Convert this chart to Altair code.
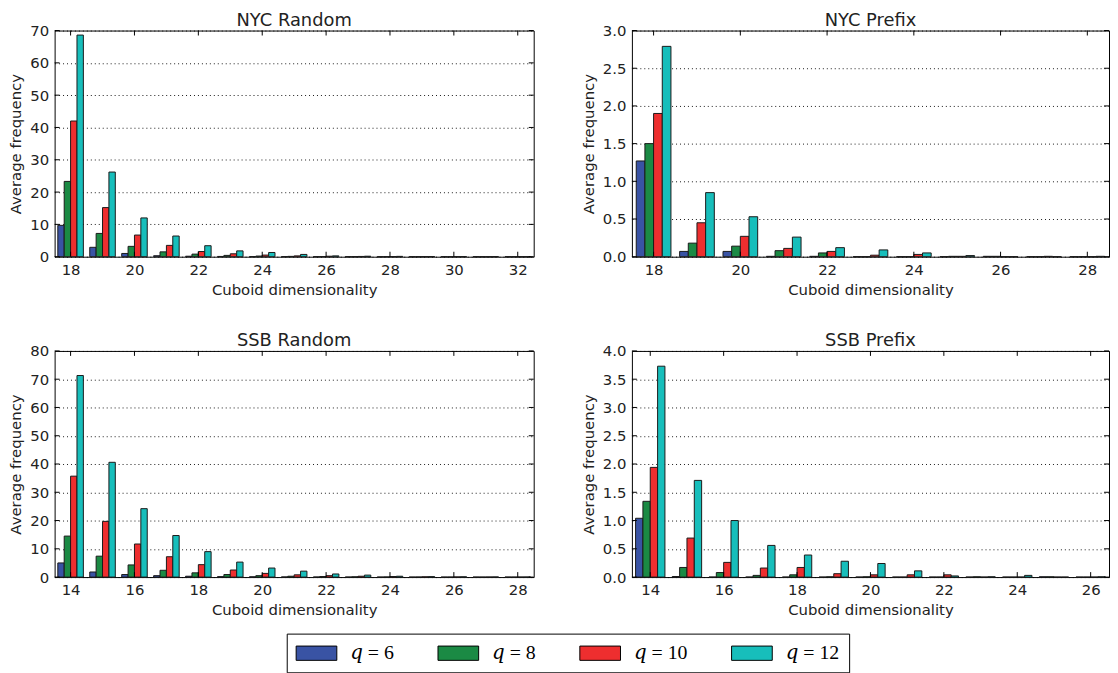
import altair as alt
import pandas as pd

# ---------------- data ----------------
LABELS = ["𝑞 = 6", "𝑞 = 8", "𝑞 = 10", "𝑞 = 12"]
COLORS = ["#3953a4", "#1b8a44", "#ee2e2f", "#17bebb"]

nycr_dims = list(range(18, 33))
nycr_q6 = [9.7, 2.9, 1.0, 0.3, 0.15, 0.08, 0.04, 0.02, 0.01, 0.01, 0, 0, 0, 0, 0]
nycr_q8 = [23.3, 7.2, 3.2, 1.5, 0.8, 0.4, 0.2, 0.1, 0.05, 0.03, 0.02, 0.01, 0, 0, 0]
nycr_q10 = [42.0, 15.2, 6.7, 3.5, 1.6, 0.9, 0.5, 0.25, 0.15, 0.08, 0.04, 0.02, 0.01, 0, 0]
nycr_q12 = [68.6, 26.2, 12.0, 6.4, 3.4, 1.8, 1.3, 0.7, 0.25, 0.15, 0.1, 0.05, 0.03, 0.02, 0.01]

nycp_dims = list(range(18, 29))
nycp_q6 = [1.27, 0.07, 0.07, 0.005, 0.005, 0, 0, 0, 0.005, 0, 0]
nycp_q8 = [1.50, 0.18, 0.14, 0.08, 0.05, 0, 0, 0.005, 0.005, 0, 0]
nycp_q10 = [1.90, 0.45, 0.27, 0.11, 0.07, 0.02, 0.03, 0.005, 0, 0.005, 0]
nycp_q12 = [2.79, 0.85, 0.53, 0.26, 0.12, 0.09, 0.05, 0.015, 0, 0, 0.005]

ssbr_dims = list(range(14, 29))
ssbr_q6 = [5.0, 1.8, 0.9, 0.5, 0.3, 0.15, 0.1, 0.05, 0.02, 0.01, 0, 0, 0, 0, 0]
ssbr_q8 = [14.5, 7.4, 4.3, 2.4, 1.5, 0.9, 0.5, 0.3, 0.2, 0.1, 0.05, 0.02, 0.01, 0, 0]
ssbr_q10 = [35.7, 19.7, 11.7, 7.2, 4.4, 2.5, 1.3, 0.8, 0.5, 0.3, 0.2, 0.1, 0.05, 0.02, 0.01]
ssbr_q12 = [71.3, 40.6, 24.2, 14.7, 9.0, 5.3, 3.2, 2.1, 1.1, 0.7, 0.3, 0.15, 0.1, 0.05, 0.03]

ssbp_dims = list(range(14, 27))
ssbp_q6 = [1.04, 0.01, 0, 0, 0, 0, 0, 0, 0, 0, 0, 0.005, 0]
ssbp_q8 = [1.34, 0.17, 0.08, 0.03, 0.04, 0.005, 0.005, 0, 0, 0.005, 0, 0.005, 0]
ssbp_q10 = [1.94, 0.69, 0.26, 0.16, 0.17, 0.06, 0.04, 0.04, 0.04, 0, 0, 0, 0]
ssbp_q12 = [3.73, 1.71, 1.00, 0.56, 0.39, 0.28, 0.24, 0.11, 0.02, 0.005, 0.03, 0, 0.005]

# ---------------- layout constants ----------------
OFFSETS = [-0.3, -0.1, 0.1, 0.3]
HALF = 0.1
H = 228
TICK = 5

legend = alt.Legend(
    orient="none", legendX=234, legendY=608, direction="horizontal", columns=4,
    title=None, symbolType="M-1,-0.72H3.1V0.72H-1Z", symbolSize=400,
    symbolStrokeColor="black", symbolStrokeWidth=1, symbolOpacity=1,
    labelFont="Liberation Serif, DejaVu Serif", labelFontSize=20, labelColor="black",
    labelOffset=34, columnPadding=41, padding=9,
    strokeColor="black", fillColor="white",
)


def make_df(dims, series):
    rows = []
    for si, vals in enumerate(series):
        for d, v in zip(dims, vals):
            rows.append({"q": LABELS[si], "value": v,
                         "lo": d + OFFSETS[si] - HALF, "hi": d + OFFSETS[si] + HALF})
    return pd.DataFrame(rows)


def panel(title, dims, series, xdom, xticks, ydom, yticks, yfmt, W):
    df = make_df(dims, series)
    xs = alt.Scale(domain=xdom, nice=False, zero=False)
    ys = alt.Scale(domain=ydom, nice=False)
    xax = alt.Axis(values=xticks, format="d", title="Cuboid dimensionality", grid=False,
                   ticks=False, domain=False, labelPadding=6, titlePadding=5)
    yax = alt.Axis(values=yticks, format=yfmt, title="Average frequency", grid=True,
                   gridColor="black", gridDash=[1, 3], gridOpacity=0.9, ticks=False,
                   domain=False, labelPadding=6, titlePadding=6)
    bars = alt.Chart(df).mark_bar(stroke="#1a1a1a", strokeWidth=1, opacity=1).encode(
        x=alt.X("lo:Q", scale=xs, axis=xax),
        x2="hi:Q",
        y=alt.Y("value:Q", scale=ys, axis=yax),
        y2=alt.datum(0),
        color=alt.Color("q:N", scale=alt.Scale(domain=LABELS, range=COLORS), legend=legend),
    )
    xt = pd.DataFrame({"lo": xticks})
    yt = pd.DataFrame({"value": yticks})
    bottom = alt.Chart(xt).mark_rule(color="black", strokeWidth=1).encode(
        x=alt.X("lo:Q", scale=xs, axis=xax), y=alt.value(H), y2=alt.value(H - TICK))
    top = alt.Chart(xt).mark_rule(color="black", strokeWidth=1).encode(
        x=alt.X("lo:Q", scale=xs, axis=xax), y=alt.value(0), y2=alt.value(TICK))
    left = alt.Chart(yt).mark_rule(color="black", strokeWidth=1).encode(
        y=alt.Y("value:Q", scale=ys, axis=yax), x=alt.value(0), x2=alt.value(TICK))
    right = alt.Chart(yt).mark_rule(color="black", strokeWidth=1).encode(
        y=alt.Y("value:Q", scale=ys, axis=yax), x=alt.value(W - TICK), x2=alt.value(W))
    return alt.layer(bars, bottom, top, left, right).properties(
        width=W, height=H, title=title)


p1 = panel("NYC Random", nycr_dims, [nycr_q6, nycr_q8, nycr_q10, nycr_q12],
           [17.5, 32.5], list(range(18, 33, 2)), [0, 70], list(range(0, 71, 10)), "d", 483)
p2 = panel("NYC Prefix", nycp_dims, [nycp_q6, nycp_q8, nycp_q10, nycp_q12],
           [17.5, 28.5], list(range(18, 29, 2)), [0, 3.0], [i * 0.5 for i in range(7)], ".1f", 481)
p3 = panel("SSB Random", ssbr_dims, [ssbr_q6, ssbr_q8, ssbr_q10, ssbr_q12],
           [13.5, 28.5], list(range(14, 29, 2)), [0, 80], list(range(0, 81, 10)), "d", 483)
p4 = panel("SSB Prefix", ssbp_dims, [ssbp_q6, ssbp_q8, ssbp_q10, ssbp_q12],
           [13.5, 26.5], list(range(14, 27, 2)), [0, 4.0], [i * 0.5 for i in range(9)], ".1f", 481)

chart = alt.vconcat(
    alt.hconcat(p1, p2, spacing=46),
    alt.hconcat(p3, p4, spacing=46),
    spacing=33,
).resolve_scale(color="shared").properties(padding=0).configure(
    font="DejaVu Sans"
).configure_axis(
    labelFontSize=15, titleFontSize=15, titleFontWeight="normal",
    labelColor="#222", titleColor="#222", labelFont="DejaVu Sans", titleFont="DejaVu Sans",
).configure_view(stroke="black", strokeWidth=1).configure_title(
    fontSize=18, fontWeight="normal", offset=-6, frame="group", anchor="middle",
    color="#222", font="DejaVu Sans",
)

chart.save("out.html", embed_options={"renderer": "svg", "actions": False})
